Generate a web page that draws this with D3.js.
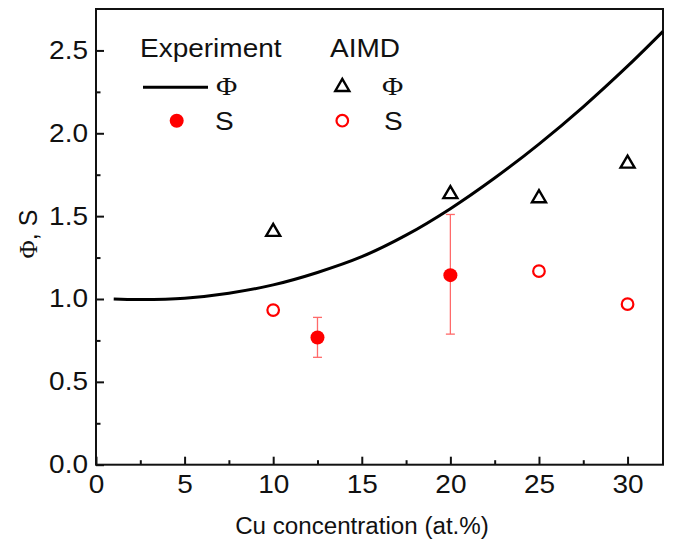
<!DOCTYPE html>
<html><head><meta charset="utf-8">
<script src="https://cdn.jsdelivr.net/npm/d3@7"></script>
<style>body{margin:0;background:#fff}svg{display:block}</style>
</head><body><svg id="c" width="678" height="551"></svg>
<script>
// ---- data ----
const curveX = [1, 2.5, 5, 7.5, 10, 12.5, 15, 17.5, 20, 22.5, 25, 27.5, 30, 32];
const curveY = [1.0, 0.997, 1.005, 1.035, 1.085, 1.16, 1.255, 1.385, 1.545, 1.73, 1.935, 2.16, 2.405, 2.615];
const expSX = [12.5, 20];
const expSY = [0.768, 1.144];
const expSLo = [0.648, 0.788];
const expSHi = [0.889, 1.51];
const aimdX = [10, 20, 25, 30];
const aimdPhi = [1.417, 1.645, 1.62, 1.829];
const aimdSX = [10, 25, 30];
const aimdS = [0.933, 1.168, 0.969];
const xTicks = [0, 5, 10, 15, 20, 25, 30];
const xMinor = [2.5, 7.5, 12.5, 17.5, 22.5, 27.5];
const yTicks = [0, 0.5, 1.0, 1.5, 2.0, 2.5];
const yMinor = [0.25, 0.75, 1.25, 1.75, 2.25];
const xTitle = "Cu concentration (at.%)";

const SX = 1.12; // horizontal text stretch
const sans = "Liberation Sans, Arial, sans-serif";
const serif = "Liberation Serif, Times New Roman, serif";

const svg = d3.select("#c");
const L = 96, R = 663, T = 9, B = 464.7;
const x = d3.scaleLinear().domain([0, 32]).range([L, R]);
const y = d3.scaleLinear().domain([0, 2.75]).range([B, T]);

// axes
const gx = svg.append("g").attr("transform", `translate(0,${B})`)
  .call(d3.axisBottom(x).tickValues(xTicks).tickSizeInner(-8).tickSizeOuter(0).tickPadding(11).tickFormat(d3.format("d")));
const gxm = svg.append("g").attr("transform", `translate(0,${B})`)
  .call(d3.axisBottom(x).tickValues(xMinor).tickSizeInner(-4.5).tickSizeOuter(0).tickFormat(""));
const gy = svg.append("g").attr("transform", `translate(${L},0)`)
  .call(d3.axisLeft(y).tickValues(yTicks).tickSizeInner(-8).tickSizeOuter(0).tickPadding(8).tickFormat(d3.format(".1f")));
const gym = svg.append("g").attr("transform", `translate(${L},0)`)
  .call(d3.axisLeft(y).tickValues(yMinor).tickSizeInner(-4.5).tickSizeOuter(0).tickFormat(""));
[gx, gxm, gy, gym].forEach(g => {
  g.select(".domain").remove();
  g.selectAll(".tick line").attr("stroke", "#111").attr("stroke-width", 2);
});
gx.selectAll(".tick text").attr("font-family", sans).attr("font-size", 25).attr("fill", "#111")
  .attr("dy", "0.71em").attr("transform", `scale(${SX},1)`);
gy.selectAll(".tick text").attr("font-family", sans).attr("font-size", 25).attr("fill", "#111")
  .attr("x", -8 / SX).attr("transform", `scale(${SX},1)`);

// frame
svg.append("rect").attr("x", L).attr("y", T).attr("width", R - L).attr("height", B - T)
  .attr("fill", "none").attr("stroke", "#111").attr("stroke-width", 2);

// curve
const line = d3.line().x((d, i) => x(curveX[i])).y((d, i) => y(curveY[i])).curve(d3.curveCatmullRom.alpha(0.5));
svg.append("path").datum(curveY).attr("d", line).attr("fill", "none").attr("stroke", "#000").attr("stroke-width", 3);

// triangles
const tri = (cx, cy, w, h) => `M${cx - w / 2},${cy + h / 2}L${cx + w / 2},${cy + h / 2}L${cx},${cy - h / 2}Z`;
svg.append("g").selectAll("path").data(aimdX).join("path")
  .attr("d", (d, i) => tri(x(d), y(aimdPhi[i]), 14, 12))
  .attr("fill", "none").attr("stroke", "#000").attr("stroke-width", 2.4).attr("stroke-linejoin", "miter");

// aimd S open circles
svg.append("g").selectAll("circle").data(aimdSX).join("circle")
  .attr("cx", d => x(d)).attr("cy", (d, i) => y(aimdS[i])).attr("r", 5.8)
  .attr("fill", "none").attr("stroke", "#ff0000").attr("stroke-width", 2.2);

// error bars
const eb = svg.append("g").attr("stroke", "#ff6a6a").attr("stroke-width", 1.3);
expSX.forEach((d, i) => {
  const cx = x(d);
  eb.append("line").attr("x1", cx).attr("x2", cx).attr("y1", y(expSLo[i])).attr("y2", y(expSHi[i]));
  eb.append("line").attr("x1", cx - 4.5).attr("x2", cx + 4.5).attr("y1", y(expSLo[i])).attr("y2", y(expSLo[i]));
  eb.append("line").attr("x1", cx - 4.5).attr("x2", cx + 4.5).attr("y1", y(expSHi[i])).attr("y2", y(expSHi[i]));
});
svg.append("g").selectAll("circle").data(expSX).join("circle")
  .attr("cx", d => x(d)).attr("cy", (d, i) => y(expSY[i])).attr("r", 7).attr("fill", "#ff0000");

// text helper
function txt(s, px, py, size, fam, anchor, sx) {
  return svg.append("text").attr("transform", `translate(${px},${py}) scale(${sx || SX},1)`)
    .attr("font-family", fam).attr("font-size", size).attr("fill", "#111")
    .attr("text-anchor", anchor || "start").text(s);
}

// axis titles
txt(xTitle, 362, 534, 23, sans, "middle", 1.05);
const yt = svg.append("text").attr("transform", "translate(37,234) rotate(-90)")
  .attr("text-anchor", "middle").attr("font-size", 25).attr("fill", "#111");
yt.append("tspan").attr("font-family", serif).text("Φ");
yt.append("tspan").attr("font-family", sans).text(", S");

// legend
txt("Experiment", 140, 57, 25, sans);
txt("AIMD", 330, 57, 25, sans);
svg.append("line").attr("x1", 143).attr("x2", 208).attr("y1", 87.3).attr("y2", 87.3)
  .attr("stroke", "#000").attr("stroke-width", 3);
txt("Φ", 216, 95, 26, serif);
svg.append("circle").attr("cx", 176.7).attr("cy", 120.7).attr("r", 7).attr("fill", "#ff0000");
txt("S", 215, 130, 25, sans);
svg.append("path").attr("d", tri(342.3, 85, 14, 12)).attr("fill", "none")
  .attr("stroke", "#000").attr("stroke-width", 2.4);
txt("Φ", 382, 95, 26, serif);
svg.append("circle").attr("cx", 342.3).attr("cy", 120.7).attr("r", 5.8)
  .attr("fill", "none").attr("stroke", "#ff0000").attr("stroke-width", 2.2);
txt("S", 384, 130, 25, sans);
</script></body></html>
